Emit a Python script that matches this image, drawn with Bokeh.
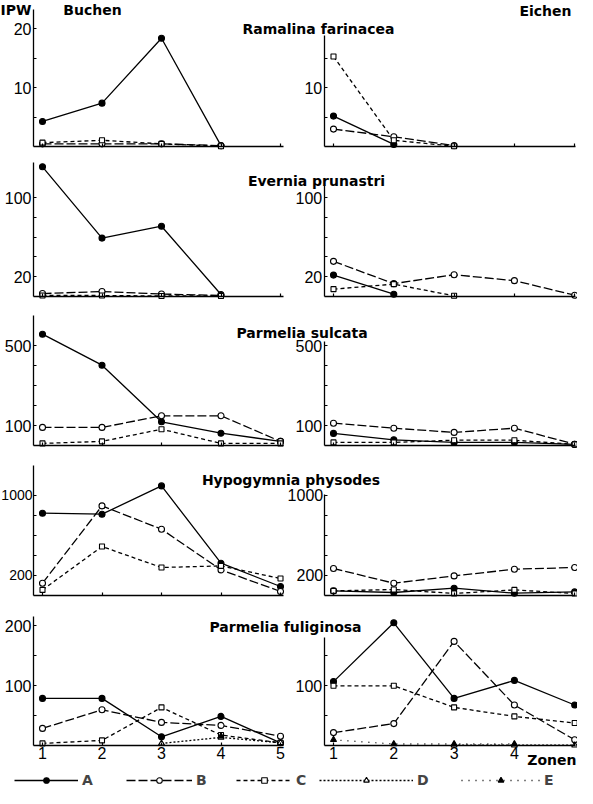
import numpy as np
from bokeh.plotting import figure
from bokeh.models import Range1d, LinearAxis, FixedTicker, Label, Legend, LegendItem
from bokeh.embed import file_html
from bokeh.resources import INLINE

nan = np.nan

# ---------------- data ----------------
zones = [1, 2, 3, 4, 5]
zone_labels_buchen = ["1", "2", "3", "4", "5"]
zone_labels_eichen = ["1", "2", "3", "4", ""]
zone_labels_none = ["", "", "", "", ""]
species = ["Ramalina farinacea", "Evernia prunastri", "Parmelia sulcata",
           "Hypogymnia physodes", "Parmelia fuliginosa"]
sites = ["Buchen", "Eichen"]
series_names = ["A", "B", "C", "D", "E"]

# Ramalina farinacea
ram_bu_A = [4.3, 7.4, 18.4, 0.2, nan]
ram_bu_B = [0.5, 0.5, 0.5, 0.2, nan]
ram_bu_C = [0.7, 1.1, 0.5, 0.1, nan]
ram_ei_A = [5.2, 0.4, nan, nan, nan]
ram_ei_B = [3.0, 1.7, 0.2, nan, nan]
ram_ei_C = [15.3, 1.1, 0.1, nan, nan]

# Evernia prunastri
eve_bu_A = [131, 59, 71, 2, nan]
eve_bu_B = [3, 5, 2.5, 1, nan]
eve_bu_C = [1, 1, 0.5, 0.5, nan]
eve_ei_A = [21.6, 2.3, nan, nan, nan]
eve_ei_B = [35.5, 13, 22, 16, 1.3]
eve_ei_C = [7.4, 12.5, 0.7, nan, nan]

# Parmelia sulcata
sul_bu_A = [558, 403, 120, 63, 22]
sul_bu_B = [92, 92, 150, 150, 22]
sul_bu_C = [12, 22, 83, 12, 12]
sul_ei_A = [62, 30, 17, 17, 7]
sul_ei_B = [113, 88, 67, 88, 8]
sul_ei_C = [17, 17, 28, 28, 7]

# Hypogymnia physodes
hyp_bu_A = [820, 810, 1093, 320, 87]
hyp_bu_B = [120, 893, 660, 253, 37]
hyp_bu_C = [53, 487, 277, 293, 167]
hyp_ei_A = [43, 27, 70, 20, 33]
hyp_ei_B = [267, 120, 193, 260, 277]
hyp_ei_C = [43, 57, 17, 53, 17]

# Parmelia fuliginosa
ful_bu_A = [79, 79, 15, 49, 5]
ful_bu_B = [29, 60, 39, 34, 16]
ful_bu_C = [4, 9, 64, 18, 5]
ful_bu_D = [nan, nan, 4, 14, 5]
ful_bu_E = [nan, nan, nan, 16, nan]
ful_ei_A = [107, 205, 79, 109, 68]
ful_ei_B = [22, 37, 174, 68, 10]
ful_ei_C = [100, 100, 64, 49, 38]
ful_ei_D = [nan, nan, 1, 1, 1]
ful_ei_E = [10, 3, 3, 3, nan]

# y tick values and labels
yticks_ram_bu = [5, 10, 15, 20]
ylabels_ram_bu = ["", "10", "", "20"]
yticks_ram_ei = [5, 10, 15]
ylabels_ram_ei = ["", "10", ""]
yticks_eve = [20, 40, 60, 80, 100]
ylabels_eve = ["20", "", "", "", "100"]
yticks_sul = [100, 200, 300, 400, 500]
ylabels_sul = ["100", "", "", "", "500"]
yticks_hyp = [200, 400, 600, 800, 1000]
ylabels_hyp = ["200", "", "", "", "1000"]
yticks_ful_bu = [50, 100, 150, 200]
ylabels_ful_bu = ["", "100", "", "200"]
yticks_ful_ei = [50, 100, 150]
ylabels_ful_ei = ["", "100", ""]

panel_data = [
    {"Buchen": {"A": ram_bu_A, "B": ram_bu_B, "C": ram_bu_C},
     "Eichen": {"A": ram_ei_A, "B": ram_ei_B, "C": ram_ei_C}},
    {"Buchen": {"A": eve_bu_A, "B": eve_bu_B, "C": eve_bu_C},
     "Eichen": {"A": eve_ei_A, "B": eve_ei_B, "C": eve_ei_C}},
    {"Buchen": {"A": sul_bu_A, "B": sul_bu_B, "C": sul_bu_C},
     "Eichen": {"A": sul_ei_A, "B": sul_ei_B, "C": sul_ei_C}},
    {"Buchen": {"A": hyp_bu_A, "B": hyp_bu_B, "C": hyp_bu_C},
     "Eichen": {"A": hyp_ei_A, "B": hyp_ei_B, "C": hyp_ei_C}},
    {"Buchen": {"A": ful_bu_A, "B": ful_bu_B, "C": ful_bu_C, "D": ful_bu_D, "E": ful_bu_E},
     "Eichen": {"A": ful_ei_A, "B": ful_ei_B, "C": ful_ei_C, "D": ful_ei_D, "E": ful_ei_E}},
]
panel_ticks = [
    {"Buchen": (yticks_ram_bu, ylabels_ram_bu), "Eichen": (yticks_ram_ei, ylabels_ram_ei)},
    {"Buchen": (yticks_eve, ylabels_eve), "Eichen": (yticks_eve, ylabels_eve)},
    {"Buchen": (yticks_sul, ylabels_sul), "Eichen": (yticks_sul, ylabels_sul)},
    {"Buchen": (yticks_hyp, ylabels_hyp), "Eichen": (yticks_hyp, ylabels_hyp)},
    {"Buchen": (yticks_ful_bu, ylabels_ful_bu), "Eichen": (yticks_ful_ei, ylabels_ful_ei)},
]

# ---------------- layout (page pixels) ----------------
W, H, OFF = 577, 788, 8
COL = {
    "Buchen": dict(z1=50.0, step=59.5, yaxis=41.0, xend=291.0),
    "Eichen": dict(z1=341.0, step=60.3, yaxis=331.7, xend=583.0),
}
ROW = [
    dict(base=154.3, k=5.9, top={"Buchen": 23.2, "Eichen": 18.8}, title=(326, 36), lab="16px"),
    dict(base=304.0, k=0.99, top={"Buchen": 135, "Eichen": 112}, title=(324, 188.3), lab="16px"),
    dict(base=453.3, k=0.2, top={"Buchen": 650, "Eichen": 520}, title=(309.5, 340.7), lab="16px"),
    dict(base=602.7, k=0.1, top={"Buchen": 1300, "Eichen": 1010}, title=(298.5, 487.3), lab="14px"),
    dict(base=753.3, k=0.6, top={"Buchen": 215, "Eichen": 180}, title=(293, 634), lab="16px"),
]
STYLE = {
    "A": dict(dash="solid", marker="circle", fill="black", size=6),
    "B": dict(dash="9 3", marker="circle", fill="white", size=6),
    "C": dict(dash="4 3", marker="square", fill="white", size=5),
    "D": dict(dash="2 2", marker="triangle", fill="white", size=6),
    "E": dict(dash="1 6", marker="triangle", fill="black", size=6),
}
LEG = {"A": (22, 64), "B": (134, 66), "C": (244, 56), "D": (327, 94), "E": (469, 79)}

p = figure(width=W, height=H, output_backend="svg", toolbar_location=None,
           x_range=Range1d(0, W), y_range=Range1d(H, 0),
           x_axis_location=None, y_axis_location=None,
           min_border=0, outline_line_color=None,
           background_fill_color="white", border_fill_color="white")
p.grid.visible = False


def zone_of(site, page_x):
    c = COL[site]
    return 1 + (page_x - c["z1"]) / c["step"]


for site, c in COL.items():
    start = 1 - (c["z1"] - OFF) / c["step"]
    p.extra_x_ranges[f"x_{site}"] = Range1d(start, start + W / c["step"])

for i, row in enumerate(ROW):
    end = (row["base"] - OFF) / row["k"]
    p.extra_y_ranges[f"y{i}"] = Range1d(end - H / row["k"], end)


def style_axis(ax, size="16px"):
    ax.axis_line_width = 1.3
    ax.axis_line_color = "black"
    ax.major_tick_in = 3
    ax.major_tick_out = 0
    ax.major_tick_line_width = 1.2
    ax.minor_tick_in = 0
    ax.minor_tick_out = 0
    ax.major_label_text_font = "Liberation Sans"
    ax.major_label_text_font_size = size
    ax.major_label_text_color = "black"


legend_renderers = {}
for i, row in enumerate(ROW):
    yn = f"y{i}"
    for site in sites:
        xn = f"x_{site}"
        c = COL[site]
        yt, yl = panel_ticks[i][site]
        yax = LinearAxis(x_range_name=xn, y_range_name=yn,
                         fixed_location=zone_of(site, c["yaxis"]),
                         bounds=(0, row["top"][site]), ticker=FixedTicker(ticks=yt),
                         major_label_overrides=dict(zip(yt, yl)),
                         major_label_standoff=1 if row["lab"] != "16px" else 2)
        style_axis(yax, row["lab"] if site == "Buchen" else "16px")
        p.add_layout(yax, "left")
        if i == len(ROW) - 1:
            xl = zone_labels_buchen if site == "Buchen" else zone_labels_eichen
        else:
            xl = zone_labels_none
        xax = LinearAxis(x_range_name=xn, y_range_name=yn, fixed_location=0,
                         bounds=(zone_of(site, c["yaxis"]), zone_of(site, c["xend"])),
                         ticker=FixedTicker(ticks=zones),
                         major_label_overrides=dict(zip(zones, xl)), major_label_standoff=1)
        style_axis(xax)
        p.add_layout(xax, "below")

        sers = panel_data[i][site]
        lines = {}
        for s, vals in sers.items():
            st = STYLE[s]
            lines[s] = p.line(zones, np.array(vals, dtype=float), x_range_name=xn, y_range_name=yn,
                              line_color="black", line_width=1.3, line_dash=st["dash"])
        for s, vals in sers.items():
            st = STYLE[s]
            sc = p.scatter(zones, np.array(vals, dtype=float), x_range_name=xn, y_range_name=yn,
                           marker=st["marker"], size=st["size"], fill_color=st["fill"],
                           line_color="black", line_width=1.1)
            if i == len(ROW) - 1 and site == "Buchen":
                legend_renderers[s] = [lines[s], sc]


def add_text(text, x, y, align="center", size="14px"):
    p.add_layout(Label(x=x - OFF, y=y - OFF, text=text, text_align=align,
                       text_baseline="alphabetic", text_font="DejaVu Sans",
                       text_font_style="bold", text_font_size=size, text_color="black"))


for name, row in zip(species, ROW):
    add_text(name, row["title"][0], row["title"][1])
add_text("IPW", 23.5, 17.3)
add_text("Buchen", 100, 17.3)
add_text("Eichen", 553, 18.3)
add_text("Zonen", W - 1 + OFF, 767.7, align="right")

for s in series_names:
    x0, gw = LEG[s]
    leg = Legend(items=[LegendItem(label=s, renderers=legend_renderers[s])],
                 location=(x0 - OFF, 0), orientation="horizontal",
                 glyph_width=gw, glyph_height=14, label_height=14, label_width=10,
                 label_standoff=4, padding=0, margin=0, spacing=0,
                 border_line_color=None, background_fill_alpha=0,
                 label_text_font="DejaVu Sans", label_text_font_style="bold",
                 label_text_font_size="14px")
    p.add_layout(leg)

open("out.html", "w").write(file_html(p, INLINE))
